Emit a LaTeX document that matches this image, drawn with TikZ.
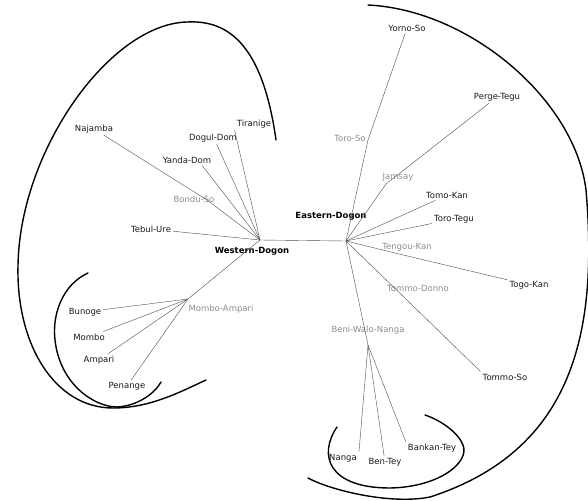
\documentclass[tikz,border=0pt]{standalone}
\usepackage{fontspec}
\setmainfont{DejaVu Sans}
\begin{document}
\begin{tikzpicture}[x=1pt,y=-1pt,
    leaf/.style={font=\fontsize{8.5}{10}\selectfont,text=black!90,inner sep=2pt},
    inner/.style={font=\fontsize{8.5}{10}\selectfont,text=black!45,inner sep=1pt},
    hub/.style={font=\fontsize{8.5}{10}\selectfont\bfseries,text=black},
    branch/.style={draw=black!70,line width=0.4pt},
    group/.style={draw=black,line width=1.4pt,line cap=round}]
    \useasboundingbox (0,0) rectangle (588,500);

    % the two hubs
    \coordinate (W) at (260,240);
    \coordinate (E) at (346,241);
    \node[hub] (Wlabel) at (252,251) {Western-Dogon};
    \node[hub] (Elabel) at (331,216) {Eastern-Dogon};

    % western branch points
    \coordinate (bondu) at (207,200);
    \coordinate (mombamp) at (188,299);
    \node[inner] (bondulabel) at (194,199) {Bondu-So};
    \node[inner] (mombamplabel) at (221,309) {Mombo-Ampari};

    % western leaves
    \node[leaf] (najamba) at (94,129) {Najamba};
    \node[leaf] (tiranige) at (254,124) {Tiranige};
    \node[leaf] (doguldom) at (213,138) {Dogul-Dom};
    \node[leaf] (yandadom) at (187,160) {Yanda-Dom};
    \node[leaf] (tebulure) at (151,229) {Tebul-Ure};
    \node[leaf] (bunoge) at (85,312) {Bunoge};
    \node[leaf] (mombo) at (89,337) {Mombo};
    \node[leaf] (ampari) at (99,360) {Ampari};
    \node[leaf] (penange) at (127,386) {Penange};

    % eastern branch points
    \coordinate (toroso) at (368,140);
    \coordinate (jamsay) at (386,184);
    \coordinate (tengou) at (395,253);
    \coordinate (tommodonno) at (410,303);
    \coordinate (bwn) at (368,345);
    \node[inner] (torosolabel) at (350,138) {Toro-So};
    \node[inner] (jamsaylabel) at (398,177) {Jamsay};
    \node[inner] (tengoulabel) at (407,247) {Tengou-Kan};
    \node[inner] (tommodonnolabel) at (418,288) {Tommo-Donno};
    \node[inner] (bwnlabel) at (368,330) {Beni-Walo-Nanga};

    % eastern leaves
    \node[leaf] (yornoso) at (407,28) {Yorno-So};
    \node[leaf] (pergetegu) at (497,97) {Perge-Tegu};
    \node[leaf] (tomokan) at (447,195) {Tomo-Kan};
    \node[leaf] (torotegu) at (454,219) {Toro-Tegu};
    \node[leaf] (togokan) at (529,285) {Togo-Kan};
    \node[leaf] (tommoso) at (505,377) {Tommo-So};
    \node[leaf] (nanga) at (343,458) {Nanga};
    \node[leaf] (bentey) at (385,462) {Ben-Tey};
    \node[leaf] (bankantey) at (432,448) {Bankan-Tey};

    \path [branch](W) edge (E);

    \path [branch](W) edge (bondu);
    \path [branch](bondu) edge (najamba);
    \path [branch](W) edge (tiranige.south west);
    \path [branch](W) edge (doguldom.-60);
    \path [branch](W) edge (yandadom.-20);
    \path [branch](W) edge (tebulure);
    \path [branch](W) edge (mombamp);
    \path [branch](mombamp) edge (bunoge);
    \path [branch](mombamp) edge (mombo);
    \path [branch](mombamp) edge (ampari);
    \path [branch](mombamp) edge (penange);

    \path [branch](E) edge (toroso);
    \path [branch](toroso) edge (yornoso);
    \path [branch](E) edge (jamsay);
    \path [branch](jamsay) edge (pergetegu);
    \path [branch](E) edge (tomokan);
    \path [branch](E) edge (torotegu);
    \path [branch](E) edge (tengou);
    \path [branch](tengou) edge (togokan);
    \path [branch](E) edge (tommodonno);
    \path [branch](tommodonno) edge (tommoso.north west);
    \path [branch](E) edge (bwn);
    \path [branch](bwn) edge (nanga.north east);
    \path [branch](bwn) edge (bentey);
    \path [branch](bwn) edge (bankantey.north west);

    % group outlines
    \draw[group] (276,140) .. controls (262,40) and (225,20) .. (187,22)
        .. controls (110,24) and (20,150) .. (18,265)
        .. controls (16,345) and (55,408) .. (113,408)
        .. controls (150,408) and (180,392) .. (206,380);
    \draw[group] (88,273) .. controls (62,285) and (52,315) .. (55,340)
        .. controls (60,385) and (95,407) .. (117,407)
        .. controls (138,406) and (155,393) .. (161,382);
    \draw[group] (368,5) .. controls (470,10) and (575,100) .. (586,190)
        .. controls (598,330) and (575,450) .. (430,497)
        .. controls (390,505) and (330,490) .. (308,478);
    \draw[group] (337,427) .. controls (318,455) and (328,488) .. (390,488)
        .. controls (440,487) and (470,462) .. (463,445)
        .. controls (458,432) and (440,420) .. (425,415);
\end{tikzpicture}
\end{document}
